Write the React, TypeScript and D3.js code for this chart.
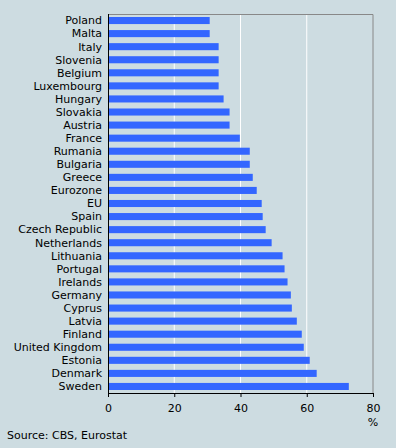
import * as d3 from "d3";
import React from "react";

// landen en waarden (%), gelezen uit de figuur
const countries = [
  "Poland", "Malta", "Italy", "Slovenia", "Belgium", "Luxembourg", "Hungary",
  "Slovakia", "Austria", "France", "Rumania", "Bulgaria", "Greece", "Eurozone",
  "EU", "Spain", "Czech Republic", "Netherlands", "Lithuania", "Portugal",
  "Irelands", "Germany", "Cyprus", "Latvia", "Finland", "United Kingdom",
  "Estonia", "Denmark", "Sweden",
];
const values = [
  30.7, 30.7, 33.4, 33.4, 33.4, 33.4, 34.9,
  36.7, 36.7, 39.8, 42.8, 42.8, 43.7, 44.9,
  46.4, 46.7, 47.6, 49.4, 52.7, 53.3,
  54.2, 55.2, 55.5, 57.0, 58.5, 59.1,
  60.9, 63.0, 72.7,
];
const xTicks = [0, 20, 40, 60, 80];

const W = 396;
const H = 448;
const margin = { top: 14, right: 23, bottom: 55, left: 108 };

const bg = "#cddce1";
const barColor = "#3366ff";
const font = "DejaVu Sans, Verdana, sans-serif";

export default function App() {
  const innerW = W - margin.left - margin.right;
  const innerH = H - margin.top - margin.bottom;

  const x = d3.scaleLinear().domain([0, 80]).range([0, innerW]);
  const y = d3
    .scaleBand()
    .domain(countries)
    .range([0, innerH])
    .paddingInner(0.46)
    .paddingOuter(0.23);

  const data = countries.map((c, i) => ({ name: c, value: values[i] }));

  return (
    <svg
      width={W}
      height={H}
      style={{ position: "absolute", left: 0, top: 0, background: bg }}
      fontFamily={font}
    >
      <rect width={W} height={H} fill={bg} />
      <g transform={`translate(${margin.left},${margin.top})`}>
        {/* rasterlijnen */}
        {xTicks.slice(1, -1).map((t) => (
          <line key={t} x1={x(t)} x2={x(t)} y1={0} y2={innerH} stroke="#ffffff" strokeWidth={1} />
        ))}
        {/* kader boven en rechts */}
        <path
          d={`M0,0.5H${x(80)}V${innerH}`}
          fill="none"
          stroke="#888888"
          strokeWidth={1}
        />
        {/* balken */}
        {data.map((d) => (
          <rect
            key={d.name}
            x={0}
            y={y(d.name)}
            width={x(d.value)}
            height={y.bandwidth()}
            fill={barColor}
          />
        ))}
        {/* categorielabels */}
        {data.map((d) => (
          <text
            key={d.name}
            x={-6}
            y={(y(d.name) ?? 0) + y.bandwidth() / 2}
            dy="0.35em"
            textAnchor="end"
            fontSize={11}
            fill="#000"
          >
            {d.name}
          </text>
        ))}
        {/* assen */}
        <line x1={0.5} x2={0.5} y1={0} y2={innerH} stroke="#000" />
        <line x1={0} x2={x(80)} y1={innerH + 0.5} y2={innerH + 0.5} stroke="#000" />
        {xTicks.map((t) => (
          <g key={t} transform={`translate(${x(t) + 0.5},${innerH})`}>
            <line y1={0} y2={4} stroke="#000" />
            <text y={15} dy="0.35em" textAnchor="middle" fontSize={11} fill="#000">
              {t}
            </text>
          </g>
        ))}
        <text x={x(80)} y={innerH + 29} dy="0.35em" textAnchor="middle" fontSize={11} fill="#000">
          %
        </text>
      </g>
      <text x={7} y={435} dy="0.35em" fontSize={11} fill="#000">
        Source: CBS, Eurostat
      </text>
    </svg>
  );
}
